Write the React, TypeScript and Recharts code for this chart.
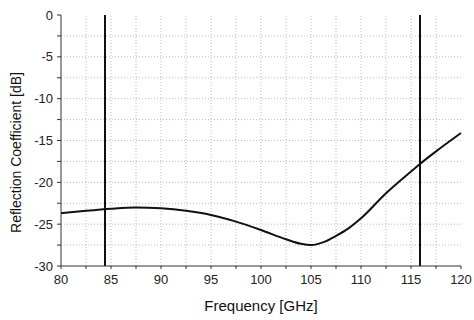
import React from 'react';
import { LineChart, Line, XAxis, YAxis, ReferenceLine } from 'recharts';

const freq = [80, 82.5, 85, 87.5, 90, 92.5, 95, 97.5, 100, 102.5, 104, 105, 106.25, 107.5, 108.75, 110, 112.5, 115, 115.9, 117.5, 120];
const rc = [-23.7, -23.4, -23.15, -23.0, -23.1, -23.4, -23.9, -24.7, -25.7, -26.8, -27.35, -27.5, -27.15, -26.4, -25.5, -24.3, -21.3, -18.7, -17.8, -16.3, -14.1];
const markers = [84.4, 115.9];
const xTicks = [80, 82.5, 85, 87.5, 90, 92.5, 95, 97.5, 100, 102.5, 105, 107.5, 110, 112.5, 115, 117.5, 120];
const yTicks = [-30, -27.5, -25, -22.5, -20, -17.5, -15, -12.5, -10, -7.5, -5, -2.5, 0];
const xMajor = [80, 85, 90, 95, 100, 105, 110, 115, 120];
const gridX = [82.5, 85, 87.5, 90, 92.5, 95, 97.5, 100, 102.5, 105, 107.5, 110, 112.5, 115, 117.5];
const gridY = [-27.5, -25, -22.5, -20, -17.5, -15, -12.5, -10, -7.5, -5, -2.5];

const data = freq.map((f, i) => ({ f, v: rc[i] }));

const font = '"Liberation Sans", Arial, sans-serif';
const tickStyle = { fontSize: 13, fill: '#222', fontFamily: font };
const fmt = (v: number) => (Number.isInteger(v) && v % 5 === 0 ? String(v) : '');

const YLabel = (props: any) => {
  const vb = props.viewBox || { x: 0, y: 0, width: 61, height: 251 };
  const cx = vb.x + 21;
  const cy = vb.y + vb.height / 2 + 12;
  return (
    <text
      x={cx}
      y={cy}
      transform={`rotate(-90 ${cx} ${cy})`}
      textAnchor="middle"
      fontSize={14}
      fill="#111"
      fontFamily={font}
    >
      Reflection Coefficient [dB]
    </text>
  );
};

export default function App() {
  return (
    <div style={{ position: 'absolute', left: 0, top: 0, width: 474, height: 320, background: '#fff' }}>
      <LineChart width={474} height={320} data={data} margin={{ top: 15, right: 13, bottom: 0, left: 0 }}>
        <XAxis
          dataKey="f"
          type="number"
          domain={[80, 120]}
          ticks={xTicks}
          tickFormatter={fmt}
          interval={0}
          height={54}
          tickSize={3}
          tickMargin={6}
          stroke="#333"
          tick={tickStyle}
          label={{ value: 'Frequency [GHz]', position: 'insideBottom', offset: 9, style: { fontSize: 15, fill: '#111', fontFamily: font } }}
        />
        <XAxis
          xAxisId="top"
          orientation="top"
          type="number"
          domain={[80, 120]}
          ticks={xMajor}
          tickFormatter={() => ''}
          mirror
          height={0}
          tickSize={3}
          stroke="#333"
          strokeWidth={1.5}
        />
        <YAxis
          type="number"
          domain={[-30, 0]}
          ticks={yTicks}
          tickFormatter={fmt}
          interval={0}
          width={61}
          tickSize={4}
          tickMargin={4}
          stroke="#333"
          tick={tickStyle}
          label={{ value: 'Reflection Coefficient [dB]', content: YLabel }}
        />
        <YAxis
          yAxisId="right"
          orientation="right"
          type="number"
          domain={[-30, 0]}
          ticks={yTicks}
          tickFormatter={() => ''}
          mirror
          width={0}
          tickSize={3}
          stroke="#333"
        />
        {gridX.map((g) => (
          <ReferenceLine key={'gx' + g} x={g} stroke="#bbb" strokeDasharray="1 2" strokeWidth={1} />
        ))}
        {gridY.map((g) => (
          <ReferenceLine key={'gy' + g} y={g} stroke="#bbb" strokeDasharray="1 2" strokeWidth={1} />
        ))}
        <Line type="monotone" dataKey="v" stroke="#111" strokeWidth={2} dot={false} isAnimationActive={false} />
        {markers.map((m) => (
          <ReferenceLine key={'m' + m} x={m} stroke="#111" strokeWidth={2} />
        ))}
      </LineChart>
    </div>
  );
}
